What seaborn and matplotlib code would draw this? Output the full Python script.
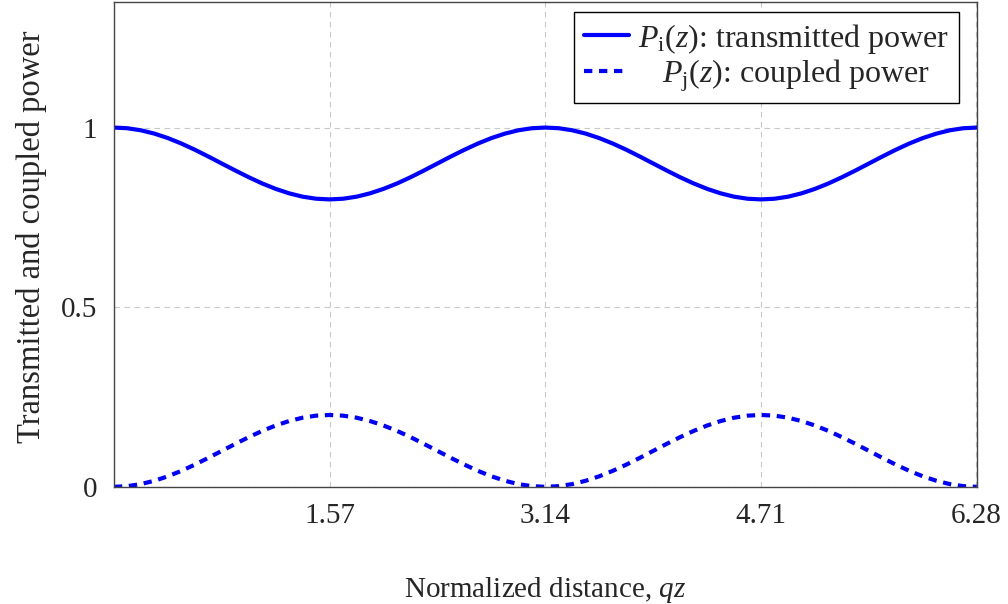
import pandas as pd
import matplotlib.pyplot as plt
import seaborn as sns

qz = [0.000, 0.098, 0.196, 0.295, 0.393, 0.491, 0.589, 0.687, 0.785, 0.884, 0.982, 1.080, 1.178, 1.276, 1.374, 1.473,
      1.571, 1.669, 1.767, 1.865, 1.963, 2.062, 2.160, 2.258, 2.356, 2.454, 2.553, 2.651, 2.749, 2.847, 2.945, 3.043,
      3.142, 3.240, 3.338, 3.436, 3.534, 3.632, 3.731, 3.829, 3.927, 4.025, 4.123, 4.222, 4.320, 4.418, 4.516, 4.614,
      4.712, 4.811, 4.909, 5.007, 5.105, 5.203, 5.301, 5.400, 5.498, 5.596, 5.694, 5.792, 5.890, 5.989, 6.087, 6.185,
      6.283]
p_i = [1.0000, 0.9981, 0.9924, 0.9831, 0.9707, 0.9556, 0.9383, 0.9195, 0.9000, 0.8805, 0.8617, 0.8444, 0.8293, 0.8169, 0.8076, 0.8019,
       0.8000, 0.8019, 0.8076, 0.8169, 0.8293, 0.8444, 0.8617, 0.8805, 0.9000, 0.9195, 0.9383, 0.9556, 0.9707, 0.9831, 0.9924, 0.9981,
       1.0000, 0.9981, 0.9924, 0.9831, 0.9707, 0.9556, 0.9383, 0.9195, 0.9000, 0.8805, 0.8617, 0.8444, 0.8293, 0.8169, 0.8076, 0.8019,
       0.8000, 0.8019, 0.8076, 0.8169, 0.8293, 0.8444, 0.8617, 0.8805, 0.9000, 0.9195, 0.9383, 0.9556, 0.9707, 0.9831, 0.9924, 0.9981,
       1.0000]
p_j = [0.0000, 0.0019, 0.0076, 0.0169, 0.0293, 0.0444, 0.0617, 0.0805, 0.1000, 0.1195, 0.1383, 0.1556, 0.1707, 0.1831, 0.1924, 0.1981,
       0.2000, 0.1981, 0.1924, 0.1831, 0.1707, 0.1556, 0.1383, 0.1195, 0.1000, 0.0805, 0.0617, 0.0444, 0.0293, 0.0169, 0.0076, 0.0019,
       0.0000, 0.0019, 0.0076, 0.0169, 0.0293, 0.0444, 0.0617, 0.0805, 0.1000, 0.1195, 0.1383, 0.1556, 0.1707, 0.1831, 0.1924, 0.1981,
       0.2000, 0.1981, 0.1924, 0.1831, 0.1707, 0.1556, 0.1383, 0.1195, 0.1000, 0.0805, 0.0617, 0.0444, 0.0293, 0.0169, 0.0076, 0.0019,
       0.0000]
xticks = [1.57, 3.14, 4.71, 6.28]
xtick_labels = ['1.57', '3.14', '4.71', '6.28']
yticks = [0, 0.5, 1]
ytick_labels = ['0', '0.5', '1']

sns.set_style('white')
plt.rcParams['font.family'] = ['Liberation Serif', 'DejaVu Serif']
plt.rcParams['mathtext.fontset'] = 'custom'
plt.rcParams['mathtext.rm'] = 'Liberation Serif'
plt.rcParams['mathtext.it'] = 'Liberation Serif:italic'

df = pd.DataFrame({'qz': qz, 'pi': p_i, 'pj': p_j})

fig = plt.figure(figsize=(10.08, 6.04), dpi=100)
ax = fig.add_axes([0.113, 0.194, 0.856, 0.803])

sns.lineplot(data=df, x='qz', y='pi', ax=ax, color='blue', lw=3,
             label=r'$P_{\mathrm{i}}(z)$: transmitted power')
# leading spaces mimic the centred second legend entry
sns.lineplot(data=df, x='qz', y='pj', ax=ax, color='blue', lw=3,
             linestyle=(0, (2.0, 1.6)), label=r'   $P_{\mathrm{j}}(z)$: coupled power')

ax.set_xlim(0, 6.283)
ax.set_ylim(0, 1.35)
ax.set_xticks(xticks)
ax.set_xticklabels(xtick_labels)
ax.set_yticks(yticks)
ax.set_yticklabels(ytick_labels)
ax.tick_params(direction='in', length=5, width=0.8, color='#888888', labelsize=21, pad=12)
ax.grid(True, linestyle=(0, (5, 4)), color='#c8c8c8', lw=0.8)
for s in ax.spines.values():
    s.set_color('#444444')
    s.set_linewidth(1.0)

ax.set_xlabel(r'Normalized distance, $qz$', fontsize=21, labelpad=33)
ax.set_ylabel('Transmitted and coupled power', fontsize=23.5, labelpad=12)
ax.yaxis.set_label_coords(-0.078, 0.515)

leg = ax.legend(loc='upper right', fontsize=23, frameon=True, fancybox=False,
                edgecolor='black', framealpha=1, handlelength=1.4, handletextpad=0.3,
                borderpad=0.3, labelspacing=0.05, borderaxespad=0,
                bbox_to_anchor=(0.979, 0.979))
leg.get_frame().set_linewidth(1.0)

fig.savefig('out.png', dpi=100)
